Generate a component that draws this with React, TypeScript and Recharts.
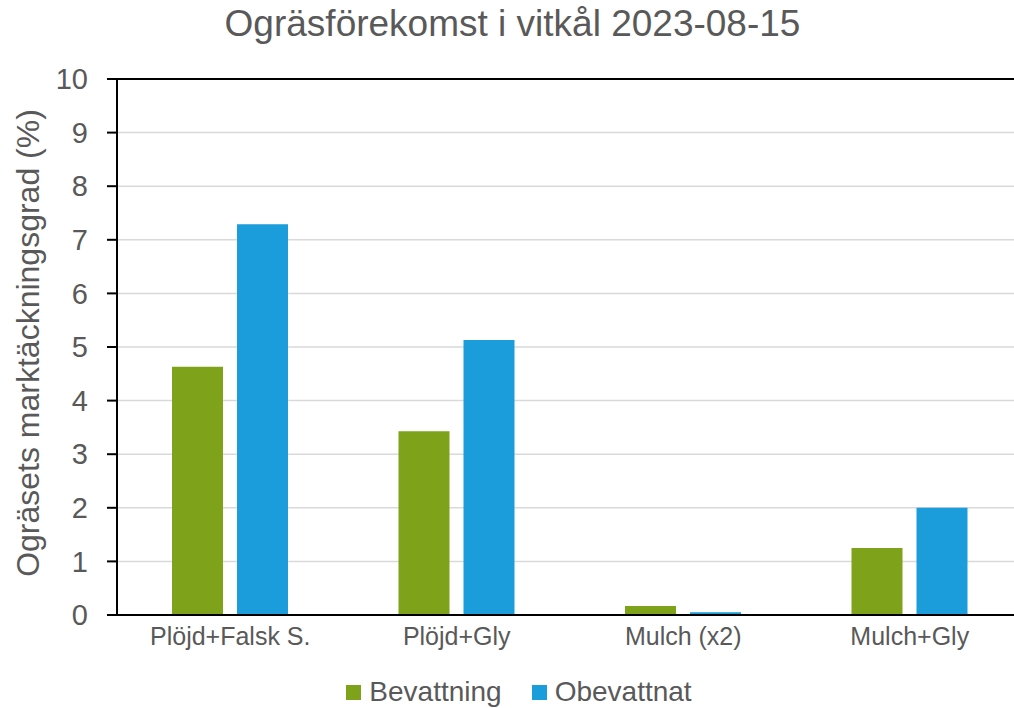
import { Bar, BarChart, CartesianGrid, ReferenceLine, XAxis, YAxis } from "recharts"

const categories = ["Plöjd+Falsk S.", "Plöjd+Gly", "Mulch (x2)", "Mulch+Gly"]
const bevattning = [4.63, 3.43, 0.17, 1.25]
const obevattnat = [7.29, 5.13, 0.05, 2.0]
const yTicks = [0, 1, 2, 3, 4, 5, 6, 7, 8, 9, 10]

const series = [
  { key: "bevattning", name: "Bevattning", color: "#7ea31a" },
  { key: "obevattnat", name: "Obevattnat", color: "#1b9ddb" },
]

const data = categories.map((name, i) => ({
  name,
  bevattning: bevattning[i],
  obevattnat: obevattnat[i],
}))

const FONT = "'Liberation Sans', Arial, sans-serif"
const GREY = "#595959"

export default function App() {
  return (
    <div
      style={{
        position: "absolute",
        left: 0,
        top: 0,
        width: 1014,
        height: 708,
        overflow: "hidden",
        background: "#fff",
        fontFamily: FONT,
      }}
    >
      <div
        style={{
          position: "absolute",
          left: 0,
          width: 1025,
          top: 3,
          textAlign: "center",
          fontSize: 37,
          color: GREY,
          lineHeight: "42px",
        }}
      >
        Ogräsförekomst i vitkål 2023-08-15
      </div>
      <BarChart
        width={1024}
        height={708}
        data={data}
        margin={{ top: 79, right: 1, bottom: 63, left: 0 }}
        barSize={51}
        barGap={14}
      >
        <CartesianGrid vertical={false} stroke="#d9d9d9" strokeWidth={1.5} />
        <XAxis
          dataKey="name"
          height={30}
          tickLine={false}
          tickSize={0}
          tickMargin={12}
          axisLine={{ stroke: "#000", strokeWidth: 2 }}
          tick={{ fill: GREY, fontSize: 25, fontFamily: FONT }}
        />
        <YAxis
          width={117}
          domain={[0, 10]}
          ticks={yTicks}
          interval={0}
          tickSize={10}
          tickMargin={19}
          axisLine={{ stroke: "#000", strokeWidth: 2 }}
          tickLine={{ stroke: "#000", strokeWidth: 2 }}
          tick={{ fill: GREY, fontSize: 29, fontFamily: FONT }}
          label={{
            content: () => (
              <text
                x={28}
                y={343}
                transform="rotate(-90 28 343)"
                textAnchor="middle"
                dominantBaseline="central"
                fill={GREY}
                fontSize={32}
                fontFamily={FONT}
              >
                Ogräsets marktäckningsgrad (%)
              </text>
            ),
          }}
        />
        <ReferenceLine y={10} stroke="#000" strokeWidth={2} />
        {series.map((s) => (
          <Bar key={s.key} dataKey={s.key} name={s.name} fill={s.color} isAnimationActive={false} />
        ))}
      </BarChart>
      <div
        style={{
          position: "absolute",
          left: 0,
          width: 1038,
          top: 675,
          display: "flex",
          justifyContent: "center",
          gap: 30,
          fontSize: 28,
          color: GREY,
          lineHeight: "34px",
        }}
      >
        {series.map((s) => (
          <div key={s.key} style={{ display: "flex", alignItems: "center", gap: 8 }}>
            <span style={{ display: "inline-block", width: 15, height: 15, background: s.color }} />
            <span>{s.name}</span>
          </div>
        ))}
      </div>
    </div>
  )
}
